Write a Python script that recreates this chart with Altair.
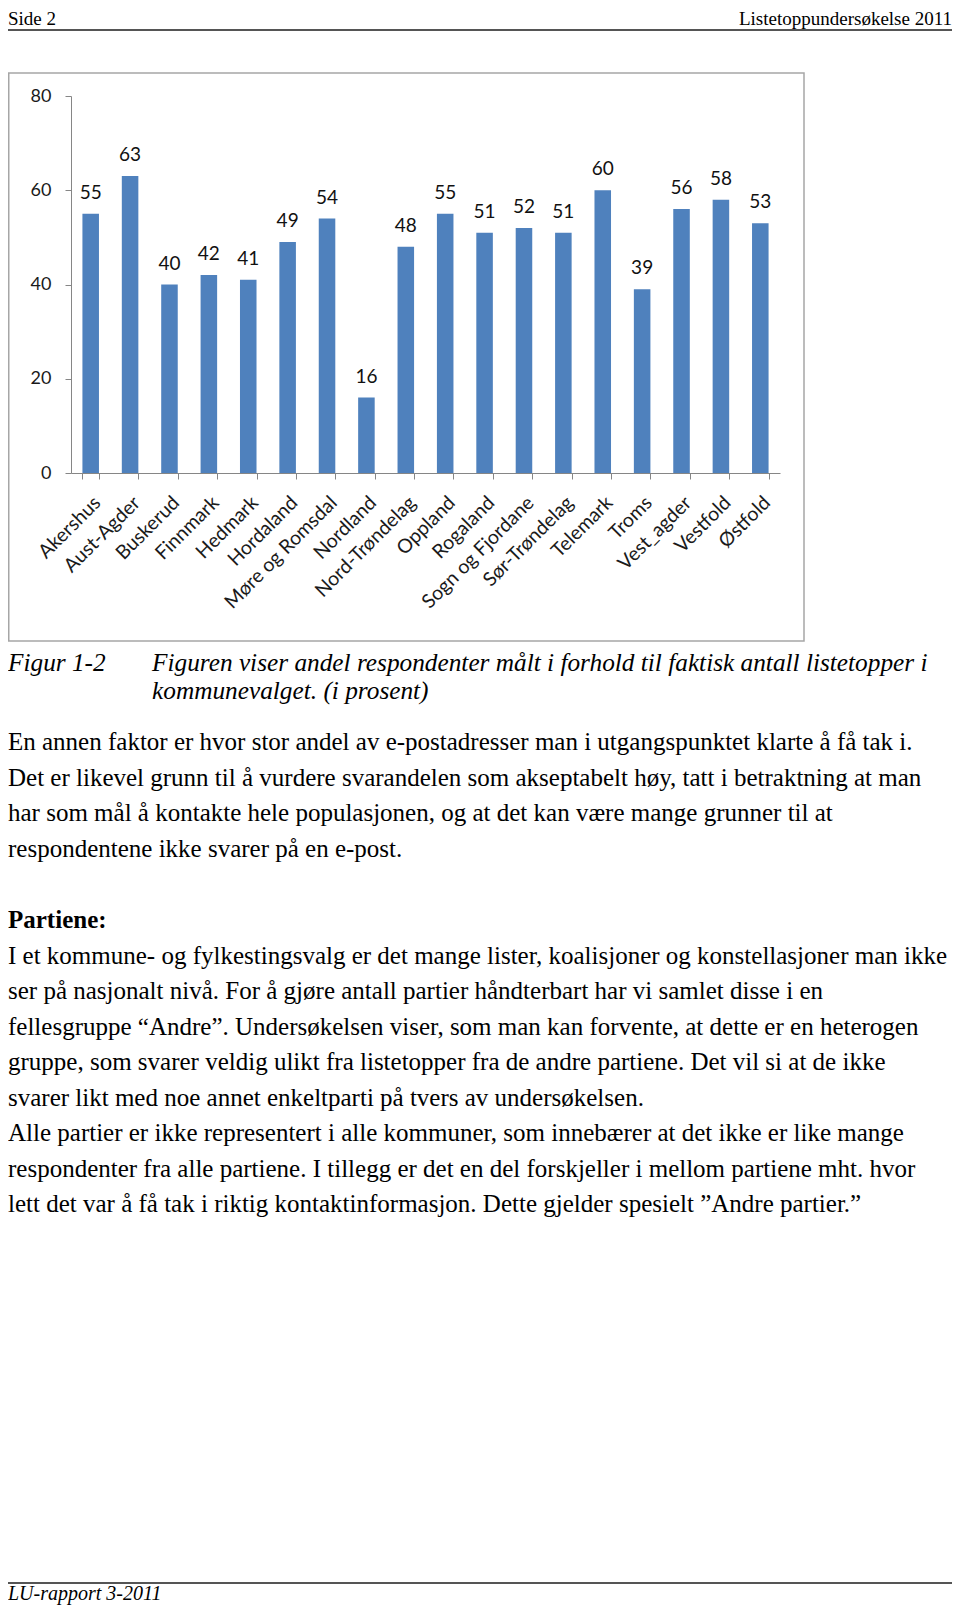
import altair as alt
import pandas as pd

# ---- data ----
fylker = ["Akershus", "Aust-Agder", "Buskerud", "Finnmark", "Hedmark", "Hordaland",
          "Møre og Romsdal", "Nordland", "Nord-Trøndelag", "Oppland", "Rogaland",
          "Sogn og Fjordane", "Sør-Trøndelag", "Telemark", "Troms", "Vest_agder",
          "Vestfold", "Østfold"]
andel = [55, 63, 40, 42, 41, 49, 54, 16, 48, 55, 51, 52, 51, 60, 39, 56, 58, 53]
y_ticks = [0, 20, 40, 60, 80]

header_left = "Side 2"
header_right = "Listetoppundersøkelse 2011"
caption_label = "Figur 1-2"
caption_lines = [
    "Figuren viser andel respondenter målt i forhold til faktisk antall listetopper i",
    "kommunevalget. (i prosent)",
]
para1 = [
    "En annen faktor er hvor stor andel av e-postadresser man i utgangspunktet klarte å få tak i.",
    "Det er likevel grunn til å vurdere svarandelen som akseptabelt høy, tatt i betraktning at man",
    "har som mål å kontakte hele populasjonen, og at det kan være mange grunner til at",
    "respondentene ikke svarer på en e-post.",
]
heading = "Partiene:"
para2 = [
    "I et kommune- og fylkestingsvalg er det mange lister, koalisjoner og konstellasjoner man ikke",
    "ser på nasjonalt nivå. For å gjøre antall partier håndterbart har vi samlet disse i en",
    "fellesgruppe “Andre”. Undersøkelsen viser, som man kan forvente, at dette er en heterogen",
    "gruppe, som svarer veldig ulikt fra listetopper fra de andre partiene. Det vil si at de ikke",
    "svarer likt med noe annet enkeltparti på tvers av undersøkelsen.",
    "Alle partier er ikke representert i alle kommuner, som innebærer at det ikke er like mange",
    "respondenter fra alle partiene. I tillegg er det en del forskjeller i mellom partiene mht. hvor",
    "lett det var å få tak i riktig kontaktinformasjon. Dette gjelder spesielt ”Andre partier.”",
]
footer = "LU-rapport 3-2011"

df = pd.DataFrame({"fylke": fylker, "andel": andel})
one = pd.DataFrame({"k": [0]})

# ---- layout (page coords -> plot coords) ----
W, H = 944, 1597
def px(x):
    return x - 8
def py(y):
    return y - 8

AX_LEFT, AX_RIGHT = 71, 780
Y0, Y80 = 473, 96
SERIF = "Liberation Serif"
SANS = "Lato"
BODY = 25
LH = 35.5

x_enc = alt.X(
    "fylke:N", sort=fylker, title=None,
    scale=alt.Scale(range=[px(AX_LEFT), px(AX_RIGHT)], paddingInner=0.58, paddingOuter=0.29),
    axis=alt.Axis(orient="bottom", offset=py(Y0) - H, labelAngle=-45, labelFont=SANS,
                  labelFontSize=19.5, labelColor="#1a1a1a", labelOverlap=False, labelPadding=14,
                  tickBand="extent", tickSize=6, tickColor="#868686", domainColor="#868686",
                  grid=False),
)
y_enc = alt.Y(
    "andel:Q", title=None,
    scale=alt.Scale(domain=[0, 80], range=[py(Y0), py(Y80)], nice=False, zero=True),
    axis=alt.Axis(orient="left", offset=-px(AX_LEFT), values=y_ticks, labelFont=SANS,
                  labelFontSize=18, labelColor="#1a1a1a", labelPadding=14, tickSize=6,
                  tickColor="#868686", domainColor="#868686", grid=False),
)

bars = alt.Chart(df).mark_bar(color="#4F81BD").encode(x=x_enc, y=y_enc)
vals = alt.Chart(df).mark_text(font=SANS, fontSize=19, color="#111", baseline="alphabetic",
                               dy=-15).encode(x=alt.X("fylke:N", sort=fylker),
                                             y=alt.Y("andel:Q"), text=alt.Text("andel:Q"))

box = alt.Chart(one).mark_rect(fill=None, stroke="#a6a6a6", strokeWidth=1.5).encode(
    x=alt.value(0.75), x2=alt.value(px(804)), y=alt.value(py(73)), y2=alt.value(py(641)))

rule_top = alt.Chart(one).mark_rule(color="#555555", strokeWidth=2).encode(
    x=alt.value(0), x2=alt.value(W), y=alt.value(py(30)))
rule_bot = alt.Chart(one).mark_rule(color="#555555", strokeWidth=2).encode(
    x=alt.value(0), x2=alt.value(W), y=alt.value(py(1583)))

def text_block(lines, x, y, size=BODY, style="normal", weight="normal", align="left", lh=LH):
    return alt.Chart(one).mark_text(
        font=SERIF, fontSize=size, fontStyle=style, fontWeight=weight, align=align,
        baseline="alphabetic", color="#000", lineHeight=lh,
    ).encode(x=alt.value(x), y=alt.value(y), text=alt.value(lines))

t_hl = text_block(header_left, 0, py(25), size=19)
t_hr = text_block(header_right, W, py(25), size=19, align="right")
t_cl = text_block(caption_label, 0, py(671), style="italic", size=25.3)
t_cap = text_block(caption_lines, px(152), py(671), style="italic", size=25.3, lh=28)
t_p1 = text_block(para1, 0, py(750))
t_h = text_block(heading, 0, py(928), weight="bold")
t_p2 = text_block(para2, 0, py(963.5))
t_ft = text_block(footer, 0, py(1600), style="italic", size=20)

chart = alt.layer(
    box, bars, vals, rule_top, rule_bot, t_hl, t_hr, t_cl, t_cap, t_p1, t_h, t_p2, t_ft
).properties(
    width=W, height=H, padding=0, autosize=alt.AutoSizeParams(type="none")
).configure_view(stroke=None)

chart.save("out.html", embed_options={"renderer": "svg", "actions": False})
